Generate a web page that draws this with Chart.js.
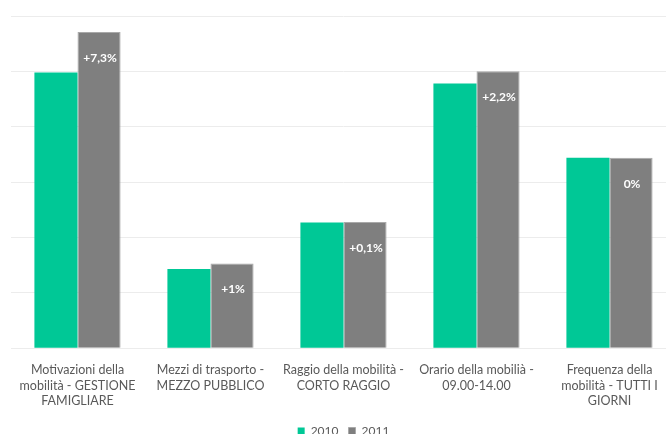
<!DOCTYPE html>
<html lang="it">
<head>
<meta charset="utf-8">
<title>Mobilità 2010-2011</title>
<script src="https://cdn.jsdelivr.net/npm/chart.js@4.4.1/dist/chart.umd.min.js"></script>
<style>
  html, body { margin: 0; padding: 0; background: #fff; overflow: hidden; }
  #wrap { position: absolute; left: 0; top: 0; width: 676px; height: 447px; }
</style>
</head>
<body>
<div id="wrap"><canvas id="chart-mobilita"></canvas></div>
<script>
'use strict';

var categorie = [
  ['Motivazioni della', 'mobilità - GESTIONE', 'FAMIGLIARE'],
  ['Mezzi di trasporto -', 'MEZZO PUBBLICO'],
  ['Raggio della mobilità -', 'CORTO RAGGIO'],
  ['Orario della mobilià -', '09.00-14.00'],
  ['Frequenza della', 'mobilità - TUTTI I', 'GIORNI']
];
var anni = ['2010', '2011'];
var valori2010 = [49.8, 14.3, 22.7, 47.8, 34.4];
var valori2011 = [57.1, 15.3, 22.8, 50.0, 34.4];

// differenza 2011 vs 2010, scritta in alto dentro la barra grigia
function etichettaVar(a, b) {
  var d = Math.round((b - a) * 10) / 10;
  if (d === 0) return '0%';
  var s = d.toFixed(1).replace('.', ',').replace(/,0$/, '');
  return (d > 0 ? '+' : '') + s + '%';
}

var etichettePlugin = {
  id: 'etichetteVar',
  afterDatasetsDraw: function (chart) {
    var meta = chart.getDatasetMeta(1);
    var ctx = chart.ctx;
    ctx.save();
    ctx.fillStyle = '#ffffff';
    ctx.font = 'bold 12px Lato, "Open Sans", sans-serif';
    ctx.textAlign = 'center';
    ctx.textBaseline = 'middle';
    meta.data.forEach(function (bar, i) {
      ctx.fillText(etichettaVar(valori2010[i], valori2011[i]), bar.x + 1, bar.y + 26);
    });
    ctx.restore();
  }
};

var canvas = document.getElementById('chart-mobilita');

new Chart(canvas, {
  type: 'bar',
  data: {
    labels: categorie,
    datasets: [{
      label: anni[0],
      data: valori2010,
      backgroundColor: '#00c896',
      borderWidth: 0
    }, {
      label: anni[1],
      data: valori2011,
      backgroundColor: '#7f7f7f',
      borderColor: '#a9a9a9',
      borderWidth: 1
    }]
  },
  options: {
    responsive: true,
    maintainAspectRatio: false,
    animation: false,
    layout: { padding: { left: 11, right: 0, top: 16, bottom: 0 } },
    datasets: {
      bar: { categoryPercentage: 0.648, barPercentage: 1.0 }
    },
    scales: {
      x: {
        grid: { display: false },
        border: { display: false },
        ticks: {
          autoSkip: false,
          maxRotation: 0,
          padding: 6,
          color: '#595959',
          font: { family: 'Lato, "Open Sans", sans-serif', size: 12.5, lineHeight: 1.25 }
        }
      },
      y: {
        min: 0,
        max: 60,
        ticks: { display: false, stepSize: 10 },
        border: { display: false },
        grid: { color: '#ececec', lineWidth: 1, drawTicks: false, tickLength: 0 }
      }
    },
    plugins: {
      legend: {
        position: 'bottom',
        labels: {
          boxWidth: 7,
          boxHeight: 7,
          padding: 10,
          color: '#595959',
          font: { family: 'Lato, "Open Sans", sans-serif', size: 12 }
        }
      },
      tooltip: { enabled: false }
    }
  },
  plugins: [etichettePlugin]
});
</script>
</body>
</html>
